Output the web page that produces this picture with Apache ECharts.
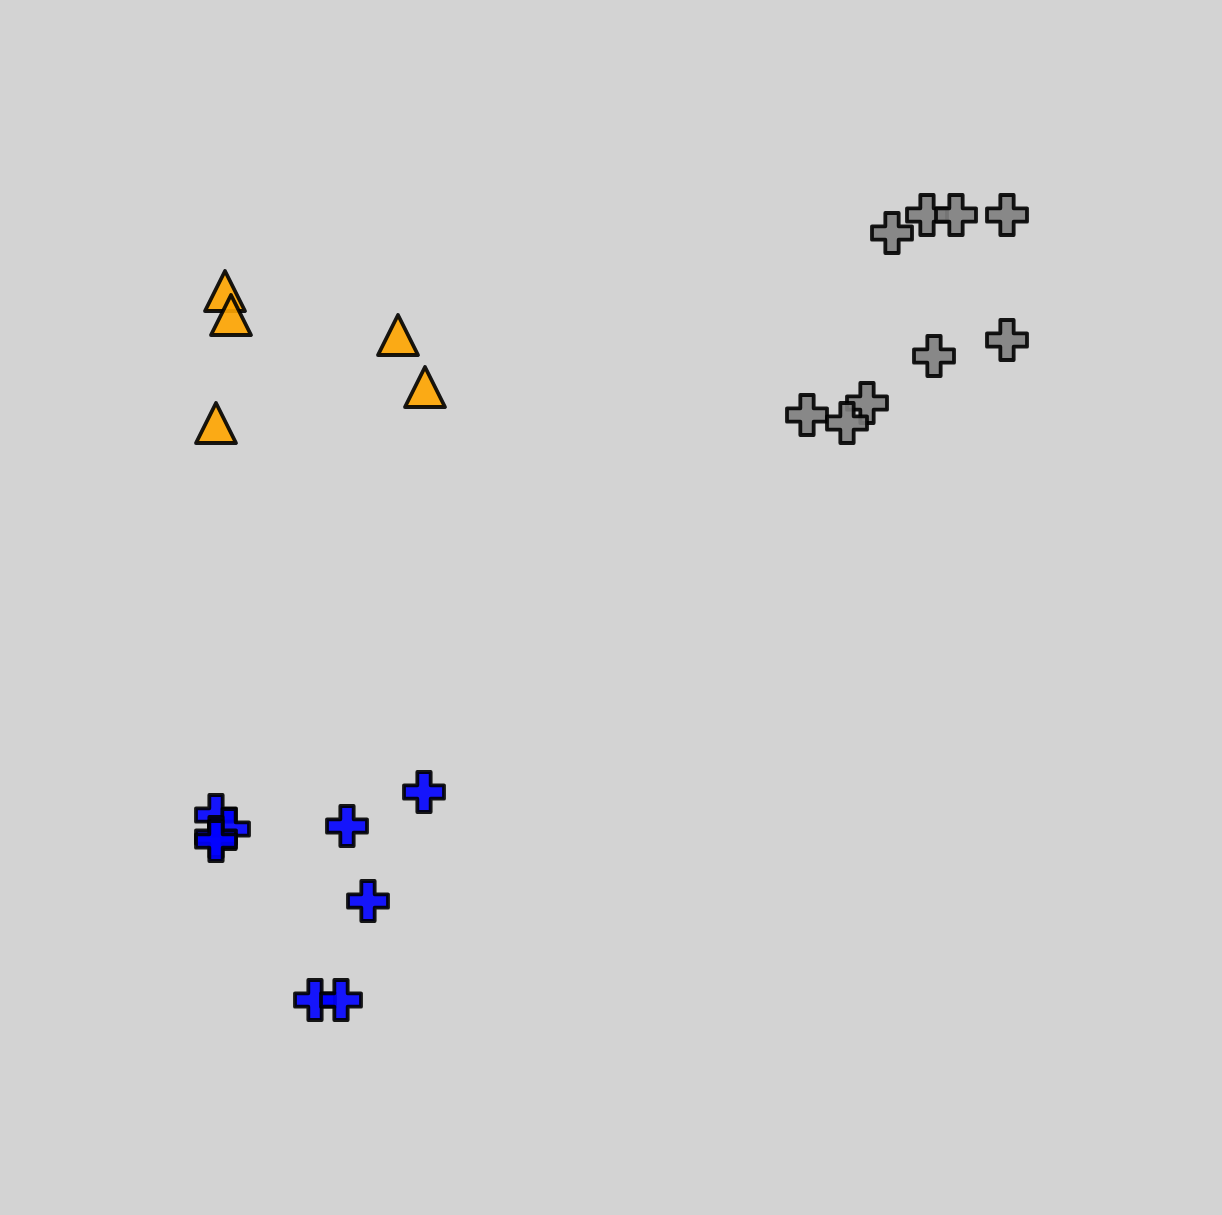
<!DOCTYPE html>
<html>
<head>
<meta charset="utf-8">
<script src="https://cdn.jsdelivr.net/npm/echarts@6/dist/echarts.min.js"></script>
<style>
html,body{margin:0;padding:0;background:#d3d3d3;}
#chart{width:1222px;height:1215px;}
</style>
</head>
<body>
<div id="chart"></div>
<script>
// Series values: [x, y]
const blueCross = [
  [2.16, 4.00], [2.29, 3.86], [2.16, 3.78], [2.16, 3.74],
  [3.47, 3.89], [4.24, 4.23], [3.68, 3.14], [3.15, 2.15], [3.41, 2.15]
];
const grayCross = [
  [8.92, 9.82], [9.27, 10.00], [9.56, 10.00], [10.07, 10.00],
  [10.07, 8.75], [9.34, 8.59], [8.67, 8.12], [8.07, 8.00], [8.47, 7.92]
];
const orangeTriangle = [
  [2.25, 9.24], [2.31, 9.00], [3.98, 8.80], [4.25, 8.28], [2.16, 7.92]
];
const xRange = [0, 12.22];
const yRange = [0, 12.15];

const crossPath = 'path://M1,0H2V1H3V2H2V3H1V2H0V1H1Z';

function mk(name, data, symbol, color) {
  return {
    name: name,
    type: 'scatter',
    data: data,
    symbol: symbol,
    symbolSize: 40,
    itemStyle: { color: color, borderColor: '#000', borderWidth: 3.8, borderJoin: 'round', opacity: 0.9 },
    emphasis: { disabled: true }
  };
}

const chart = echarts.init(document.getElementById('chart'));
chart.setOption({
  backgroundColor: '#d3d3d3',
  animation: false,
  grid: { left: 0, top: 0, width: 1222, height: 1215 },
  xAxis: { type: 'value', min: xRange[0], max: xRange[1], show: false },
  yAxis: { type: 'value', min: yRange[0], max: yRange[1], show: false },
  series: [
    mk('orange', orangeTriangle, 'triangle', '#ffa500'),
    mk('gray', grayCross, crossPath, '#808080'),
    mk('blue', blueCross, crossPath, '#0000ff')
  ]
});
</script>
</body>
</html>
